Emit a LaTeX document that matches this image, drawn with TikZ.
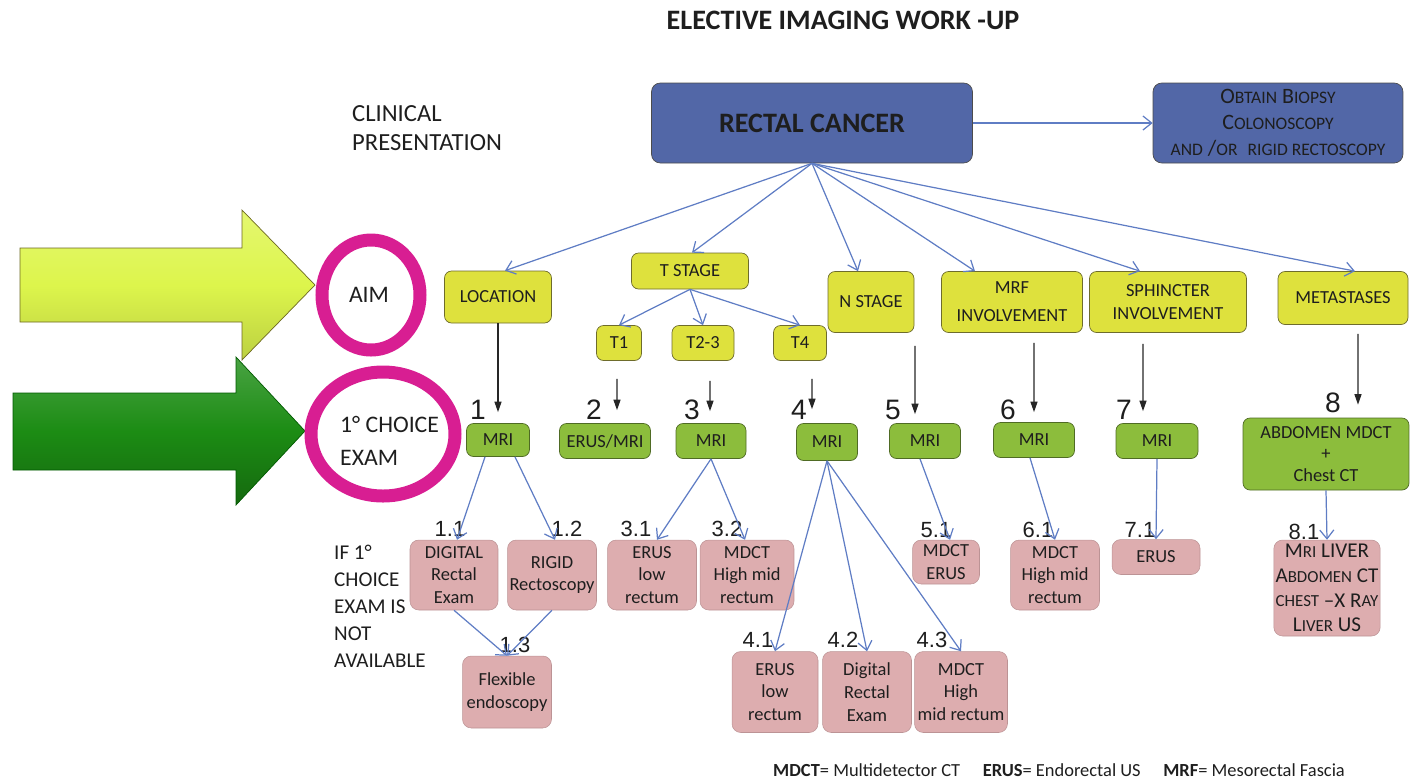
\documentclass[tikz,border=0pt]{standalone}
\usepackage{fontspec}
\setmainfont{Carlito}
\newfontfamily\numfont{Liberation Sans}
\usetikzlibrary{arrows.meta}

\definecolor{cancerblue}{HTML}{5267A7}
\definecolor{aimyellow}{HTML}{DEE13D}
\definecolor{aimline}{HTML}{6E6C2C}
\definecolor{examgreen}{HTML}{8CBD3C}
\definecolor{examline}{HTML}{4F6B24}
\definecolor{altpink}{HTML}{DDADAF}
\definecolor{linkblue}{HTML}{5F7DC4}
\definecolor{ringpink}{HTML}{D81E92}
\definecolor{textdark}{HTML}{1E1E1E}
\definecolor{arrowlight}{HTML}{DDF54C}
\definecolor{arrowdark}{HTML}{1C8C14}

\newcommand{\lowcap}[1]{\scalebox{0.8}{#1}}

\tikzset{
  cancerbox/.style={draw=black!70, fill=cancerblue, rounded corners=5pt, align=center, inner sep=1pt},
  aimbox/.style={draw=aimline, fill=aimyellow, rounded corners=4pt, align=center, inner sep=1pt},
  exambox/.style={draw=examline, fill=examgreen, rounded corners=4pt, align=center, inner sep=1pt},
  altbox/.style={fill=altpink, draw=altpink!85!black, line width=0.3pt, rounded corners=5pt, align=center, inner sep=1pt},
  bignum/.style={font=\numfont\fontsize{16}{16}\selectfont},
  subnum/.style={font=\numfont\fontsize{12.5}{12.5}\selectfont},
  bluelink/.style={draw=linkblue, line width=0.7pt, -{Straight Barb[length=5pt,width=8pt]}},
  blacklink/.style={draw=black!85, line width=0.7pt, -{Triangle[length=6pt,width=4pt]}},
}

\begin{document}
\begin{tikzpicture}[x=0.02cm,y=-0.02cm, text=textdark,
    every node/.append style={font=\fontsize{10.5}{13}\selectfont}]
  \useasboundingbox (0,0) rectangle (1410,779);

  % big arrows and rings
  \draw[draw=olive!70!black, top color=arrowlight!80!white, bottom color=arrowlight!85!black, middle color=arrowlight]
    (20,248) -- (242,248) -- (242,210) -- (315,285) -- (242,360) -- (242,322) -- (20,322) -- cycle;
  \draw[draw=green!35!black, top color=arrowdark!80!white, bottom color=arrowdark!75!black, middle color=arrowdark]
    (13,393) -- (236,393) -- (236,357) -- (305,431) -- (236,505) -- (236,470) -- (13,470) -- cycle;
  \draw[ringpink, line width=0.26cm] (371,295) ellipse (49 and 55);
  \draw[ringpink, line width=0.26cm] (383,434) ellipse (72 and 62);
  \node[font=\fontsize{13.5}{16}\selectfont] (aim) at (369,295) {AIM};
  \node[anchor=west, align=left, font=\fontsize{13.5}{18.7}\selectfont] (choice) at (334,441) {1° CHOICE\\EXAM};

  % titles
  \node[font=\bfseries\fontsize{16}{19}\selectfont] (title) at (843,20) {ELECTIVE IMAGING WORK -UP};
  \node[anchor=west, align=left, font=\fontsize{14}{16.4}\selectfont] (clin) at (346,128) {CLINICAL\\PRESENTATION};
  \node[anchor=north west, align=left, font=\fontsize{12}{15.3}\selectfont] (notavail) at (328,539) {IF 1°\\CHOICE\\EXAM IS\\NOT\\AVAILABLE};

  % top boxes
  \node[cancerbox, minimum width=6.42cm, minimum height=1.6cm, font=\bfseries\fontsize{16}{19}\selectfont] (rectal) at (812,123) {RECTAL CANCER};
  \node[cancerbox, minimum width=5cm, minimum height=1.6cm, font=\fontsize{12.5}{14.7}\selectfont] (biopsy) at (1278,123)
    {O\lowcap{BTAIN} B\lowcap{IOPSY}\\C\lowcap{OLONOSCOPY}\\\lowcap{AND} /\lowcap{OR}\ \ \lowcap{RIGID RECTOSCOPY}};

  % aims
  \node[aimbox, minimum width=2.14cm, minimum height=1.04cm] (location) at (498,297) {LOCATION};
  \node[aimbox, minimum width=2.34cm, minimum height=0.72cm] (tstage) at (690,271) {T STAGE};
  \node[aimbox, minimum width=0.9cm, minimum height=0.7cm] (t1) at (619,343) {T1};
  \node[aimbox, minimum width=1.24cm, minimum height=0.7cm] (t23) at (703,343) {T2-3};
  \node[aimbox, minimum width=1.06cm, minimum height=0.7cm] (t4) at (800,343) {T4};
  \node[aimbox, minimum width=1.72cm, minimum height=1.22cm] (nstage) at (871,302) {N STAGE};
  \node[aimbox, minimum width=2.82cm, minimum height=1.22cm] (mrf) at (1012,302) {MRF\\[3pt]INVOLVEMENT};
  \node[aimbox, minimum width=3.14cm, minimum height=1.22cm] (sphincter) at (1168,302) {SPHINCTER\\INVOLVEMENT};
  \node[aimbox, minimum width=2.6cm, minimum height=1.06cm] (meta) at (1343,298) {METASTASES};

  % first choice exams
  \node[exambox, minimum width=1.26cm, minimum height=0.66cm] (mri1) at (498,440) {MRI};
  \node[exambox, minimum width=1.82cm, minimum height=0.7cm] (erusmri) at (605,441) {ERUS/MRI};
  \node[exambox, minimum width=1.4cm, minimum height=0.7cm] (mri3) at (711,441) {MRI};
  \node[exambox, minimum width=1.22cm, minimum height=0.74cm] (mri4) at (827,442) {MRI};
  \node[exambox, minimum width=1.42cm, minimum height=0.7cm] (mri5) at (925,441) {MRI};
  \node[exambox, minimum width=1.62cm, minimum height=0.7cm] (mri6) at (1034,440) {MRI};
  \node[exambox, minimum width=1.64cm, minimum height=0.7cm] (mri7) at (1157,441) {MRI};
  \node[exambox, minimum width=3.32cm, minimum height=1.44cm, font=\fontsize{10.5}{12}\selectfont] (abd) at (1326,454) {ABDOMEN MDCT\\+\\Chest CT};

  % alternatives
  \node[altbox, minimum width=1.76cm, minimum height=1.4cm] (digital) at (454,575) {DIGITAL\\Rectal\\Exam};
  \node[altbox, minimum width=1.78cm, minimum height=1.4cm] (rigid) at (552,575) {RIGID\\Rectoscopy};
  \node[altbox, minimum width=1.78cm, minimum height=1.44cm] (flex) at (507,692) {Flexible\\endoscopy};
  \node[altbox, minimum width=1.78cm, minimum height=1.4cm] (erus3) at (652,575) {ERUS\\low\\rectum};
  \node[altbox, minimum width=1.88cm, minimum height=1.4cm] (mdct3) at (747,575) {MDCT\\High mid\\rectum};
  \node[altbox, minimum width=1.72cm, minimum height=1.62cm] (erus4) at (775,692) {ERUS\\low\\rectum};
  \node[altbox, minimum width=1.78cm, minimum height=1.62cm] (dre4) at (867,692) {Digital\\Rectal\\Exam};
  \node[altbox, minimum width=1.86cm, minimum height=1.62cm] (mdct4) at (961,692) {MDCT\\High\\mid rectum};
  \node[altbox, minimum width=1.34cm, minimum height=0.88cm] (mdct5) at (946,562) {MDCT\\ERUS};
  \node[altbox, minimum width=1.78cm, minimum height=1.4cm] (mdct6) at (1055,575) {MDCT\\High mid\\rectum};
  \node[altbox, minimum width=1.76cm, minimum height=0.7cm] (erus7) at (1156,557) {ERUS};
  \node[altbox, minimum width=2.12cm, minimum height=1.92cm, font=\fontsize{12}{14}\selectfont] (liver) at (1327,588)
    {M\lowcap{RI} LIVER\\A\lowcap{BDOMEN} CT\\\lowcap{CHEST} --X R\lowcap{AY}\\L\lowcap{IVER} US};

  % numbers
  \node[bignum] (n1) at (478,410) {1};
  \node[bignum] (n2) at (594,410) {2};
  \node[bignum] (n3) at (692,410) {3};
  \node[bignum] (n4) at (799,410) {4};
  \node[bignum] (n5) at (893,410) {5};
  \node[bignum] (n6) at (1008,410) {6};
  \node[bignum] (n7) at (1124,410) {7};
  \node[bignum] (n8) at (1333,403) {8};
  \node[subnum] (n11) at (450,529) {1.1};
  \node[subnum] (n12) at (567,529) {1.2};
  \node[subnum] (n13) at (515,645) {1.3};
  \node[subnum] (n31) at (636,529) {3.1};
  \node[subnum] (n32) at (727,529) {3.2};
  \node[subnum] (n41) at (758,640) {4.1};
  \node[subnum] (n42) at (843,640) {4.2};
  \node[subnum] (n43) at (932,640) {4.3};
  \node[subnum] (n51) at (936,530) {5.1};
  \node[subnum] (n61) at (1038,530) {6.1};
  \node[subnum] (n71) at (1140,530) {7.1};
  \node[subnum] (n81) at (1304,532) {8.1};

  % legend
  \node (legend) at (1059,770) {\textbf{MDCT}= Multidetector CT\quad\ \textbf{ERUS}= Endorectal US\quad\ \textbf{MRF}= Mesorectal Fascia};

  % connectors
  \draw[bluelink] (rectal.east) -- (biopsy.west);
  \draw[bluelink] (rectal.south) -- ([xshift=0.14cm]location.north);
  \draw[bluelink] (rectal.south) -- ([xshift=0.04cm]tstage.north);
  \draw[bluelink] (rectal.south) -- ([xshift=-0.26cm]nstage.north);
  \draw[bluelink] (rectal.south) -- ([xshift=-0.74cm]mrf.north);
  \draw[bluelink] (rectal.south) -- ([xshift=-0.56cm]sphincter.north);
  \draw[bluelink] (rectal.south) -- ([xshift=0.24cm]meta.north);
  \draw[bluelink] (tstage.south) -- (t1.north);
  \draw[bluelink] (tstage.south) -- (t23.north);
  \draw[bluelink] (tstage.south) -- (t4.north);

  \draw[blacklink] (location.south) -- ([yshift=0.22cm]mri1.north);
  \draw[blacklink] ([xshift=-0.04cm,yshift=-0.36cm]t1.south) -- ([xshift=0.24cm,yshift=0.26cm]erusmri.north);
  \draw[blacklink] ([xshift=0.14cm,yshift=-0.4cm]t23.south) -- ([xshift=-0.02cm,yshift=0.24cm]mri3.north);
  \draw[blacklink] ([xshift=0.24cm,yshift=-0.36cm]t4.south) -- ([xshift=-0.3cm,yshift=0.28cm]mri4.north);
  \draw[blacklink] ([xshift=0.88cm,yshift=-0.26cm]nstage.south) -- ([xshift=-0.2cm,yshift=0.18cm]mri5.north);
  \draw[blacklink] ([xshift=0.44cm,yshift=-0.2cm]mrf.south) -- ([yshift=0.2cm]mri6.north);
  \draw[blacklink] ([xshift=-0.5cm,yshift=-0.22cm]sphincter.south) -- ([xshift=-0.28cm,yshift=0.24cm]mri7.north);
  \draw[blacklink] ([xshift=0.3cm,yshift=-0.18cm]meta.south) -- ([xshift=0.64cm,yshift=0.26cm]abd.north);

  \draw[bluelink] ([xshift=-0.26cm]mri1.south) -- ([xshift=0.06cm]digital.north);
  \draw[bluelink] ([xshift=0.34cm]mri1.south) -- ([xshift=0.06cm]rigid.north);
  \draw[bluelink] (digital.south) -- (flex.north);
  \draw[bluelink] (rigid.south) -- (flex.north);
  \draw[bluelink] (mri3.south) -- ([xshift=0.1cm]erus3.north);
  \draw[bluelink] (mri3.south) -- ([xshift=-0.04cm]mdct3.north);
  \draw[bluelink] (mri4.south) -- (erus4.north);
  \draw[bluelink] (mri4.south) -- (dre4.north);
  \draw[bluelink] (mri4.south) -- (mdct4.north);
  \draw[bluelink] ([xshift=-0.1cm]mri5.south) -- ([xshift=0.08cm]mdct5.north);
  \draw[bluelink] ([xshift=-0.08cm]mri6.south) -- (mdct6.north);
  \draw[bluelink] (mri7.south) -- (erus7.north);
  \draw[bluelink] (abd.south) -- (liver.north);
\end{tikzpicture}
\end{document}
